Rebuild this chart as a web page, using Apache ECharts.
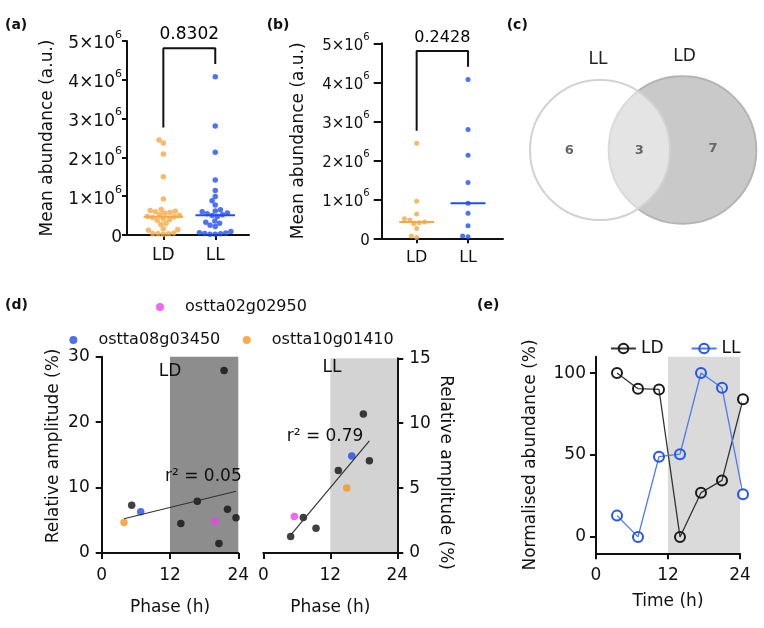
<!DOCTYPE html>
<html><head><meta charset="utf-8">
<script src="https://cdn.jsdelivr.net/npm/echarts@6/dist/echarts.min.js"></script>
<style>html,body{margin:0;padding:0;background:#fff}#c{width:764px;height:628px}</style>
</head><body><div id="c"></div>
<script>
// ---------------- data ----------------
const groups = ['LD', 'LL'];
// panel (a) mean abundance, in units of 10^6
const aLD = [2.45, 2.37, 2.09, 1.50, 0.93, 0.66, 0.63, 0.61, 0.60, 0.58, 0.56, 0.52, 0.50, 0.48, 0.47, 0.45, 0.42, 0.40, 0.38, 0.30, 0.28, 0.16, 0.14, 0.12, 0.05, 0.04, 0.03, 0.03, 0.02];
const aLL = [4.08, 2.81, 2.13, 1.42, 1.15, 0.99, 0.88, 0.77, 0.65, 0.62, 0.60, 0.57, 0.55, 0.52, 0.50, 0.48, 0.36, 0.33, 0.30, 0.25, 0.22, 0.09, 0.06, 0.05, 0.04, 0.03, 0.02, 0.02];
// panel (b)
const bLD = [2.44, 0.95, 0.62, 0.50, 0.47, 0.42, 0.40, 0.37, 0.25, 0.06, 0.02];
const bLL = [4.07, 2.79, 2.13, 1.43, 0.90, 0.64, 0.32, 0.06, 0.04];
const pValues = ['0.8302', '0.2428'];
const abundanceTicks = [0, 1, 2, 3, 4, 5];   // x10^6
// panel (c) Venn
const vennSets = ['LL', 'LD'];
const vennOnly = [6, 7];
const vennShared = 3;
// panel (d)
const geneNames = ['ostta02g02950', 'ostta08g03450', 'ostta10g01410'];
const dLDphase = [5.27, 6.85, 3.92, 13.9, 16.8, 19.9, 20.6, 21.5, 22.1, 23.6];
const dLDamp   = [7.3, 6.3, 4.65, 4.5, 7.9, 4.85, 1.44, 27.9, 6.7, 5.4];
const dLDgene  = [-1, 1, 2, -1, -1, 0, -1, -1, -1, -1];
const dLLphase = [4.9, 5.56, 7.17, 9.44, 13.44, 14.95, 15.84, 17.92, 19.0];
const dLLamp   = [1.28, 2.82, 2.74, 1.9, 6.35, 5.0, 7.48, 10.7, 7.1];
const dLLgene  = [-1, 0, -1, -1, -1, 2, 1, -1, -1];
const rSquared = ['0.05', '0.79'];
const darkPhase = [12, 24];
// panel (e)
const eTime = [3.5, 7, 10.5, 14, 17.5, 21, 24.5];
const eLD = [100, 90.5, 90, 0, 27, 34.5, 84];
const eLL = [13, 0, 49, 50.5, 100, 91, 26];
const eTicks = [0, 50, 100];

// ---------------- helpers ----------------
const F = 'DejaVu Sans';
const INK = '#111';
const ORANGE_A = '#f8a745', BLUE_A = '#1f4ff2';
const geneColors = ['#f03ef0', '#1f4de8', '#f5961f'];

function merge(a, b) {
  const out = Object.assign({}, a);
  for (const k in b) {
    const v = b[k];
    if (v && typeof v === 'object' && !Array.isArray(v) && out[k] && typeof out[k] === 'object' && !Array.isArray(out[k])) out[k] = merge(out[k], v);
    else out[k] = v;
  }
  return out;
}
const baseAxis = {
  type: 'value', z: 2,
  axisLine: {show: true, onZero: false, lineStyle: {color: INK, width: 2}},
  axisTick: {show: true, length: 6, lineStyle: {color: INK, width: 2}},
  axisLabel: {color: INK, fontFamily: F, fontSize: 17},
  splitLine: {show: false},
  nameLocation: 'middle',
  nameTextStyle: {color: INK, fontFamily: F, fontSize: 17}
};
const ax = o => merge(baseAxis, o);

function swarm(vals, center, pxX, pxY, d) {
  const order = vals.map((v, i) => i).sort((a, b) => vals[a] - vals[b]);
  const placed = [], res = [];
  for (const i of order) {
    const y = vals[i] * pxY;
    const ivs = [];
    for (const p of placed) {
      const dy = Math.abs(p[1] - y);
      if (dy < d) { const w = Math.sqrt(d * d - dy * dy); ivs.push([p[0] - w, p[0] + w]); }
    }
    const cands = [0];
    ivs.forEach(iv => cands.push(iv[0] - 0.01, iv[1] + 0.01));
    cands.sort((a, b) => Math.abs(a) - Math.abs(b));
    let x = 0;
    for (const c of cands) { if (!ivs.some(iv => c > iv[0] && c < iv[1])) { x = c; break; } }
    placed.push([x, y]);
    res.push([center + x / pxX, vals[i]]);
  }
  return res;
}
function median(v) {
  const s = v.slice().sort((a, b) => a - b), n = s.length;
  return n % 2 ? s[(n - 1) / 2] : (s[n / 2 - 1] + s[n / 2]) / 2;
}
function linreg(xs, ys) {
  const n = xs.length, mx = xs.reduce((a, b) => a + b) / n, my = ys.reduce((a, b) => a + b) / n;
  let sxy = 0, sxx = 0;
  xs.forEach((x, i) => { sxy += (x - mx) * (ys[i] - my); sxx += (x - mx) * (x - mx); });
  const b = sxy / sxx;
  return {a: my - b * mx, b};
}
const supRich = fs => ({
  n: {fontSize: fs, fontFamily: F, color: INK, lineHeight: fs + 6, verticalAlign: 'bottom'},
  s: {fontSize: Math.round(fs * 0.65), fontFamily: F, color: INK, lineHeight: Math.round(fs * 0.65) + 1, verticalAlign: 'top'}
});
const supFmt = v => v === 0 ? '{n|0}' : `{n|${v}×10}{s|6}`;
const HIDDEN = {color: '#fff', opacity: 0};

// ---------------- panels (a) & (b) ----------------
const series = [];
function dotPanel(idx, ldVals, llVals, pxX, pxY, halfW, dotSize, gap, pFs) {
  const cols = [ORANGE_A, BLUE_A];
  [ldVals, llVals].forEach((vals, g) => {
    series.push({type: 'scatter', xAxisIndex: idx, yAxisIndex: idx, z: 3, symbolSize: dotSize,
      itemStyle: {color: cols[g]}, data: swarm(vals, g + 1, pxX, pxY, gap), clip: false});
    const m = median(vals);
    series.push({type: 'line', xAxisIndex: idx, yAxisIndex: idx, z: 4, symbol: 'none',
      lineStyle: {color: cols[g], width: 2}, data: [[g + 1 - halfW, m], [g + 1 + halfW, m]]});
  });
  const mx1 = Math.max(...ldVals), mx2 = Math.max(...llVals);
  const top = Math.max(mx1, mx2) + 0.73;
  series.push({type: 'line', xAxisIndex: idx, yAxisIndex: idx, z: 4, symbol: 'none', clip: false,
    lineStyle: {color: INK, width: 2}, data: [[1, mx1 + 0.32], [1, top], [2, top], [2, mx2 + 0.33]]});
  series.push({type: 'scatter', xAxisIndex: idx, yAxisIndex: idx, symbolSize: 1, clip: false,
    itemStyle: {color: 'rgba(0,0,0,0)'}, data: [[1.5, top]],
    label: {show: true, position: 'top', distance: 5, formatter: pValues[idx], color: '#000', opacity: 1,
      textBorderWidth: 0, fontFamily: F, fontSize: pFs}});
}
dotPanel(0, aLD, aLL, 122 / 2.35, 194 / 5, 0.38, 5.5, 5.3, 17);
dotPanel(1, bLD, bLL, 121.3 / 2.36, 195 / 5, 0.34, 5, 5.5, 16);

// ---------------- panel (c) Venn ----------------
const unitR = 23.33, vennCy = 150, vennCx0 = 120, vennDist = 82.5;
const totals = [vennOnly[0] + vennShared, vennOnly[1] + vennShared];
const radii = totals.map(t => unitR * Math.sqrt(t));
const cxs = [vennCx0, vennCx0 + vennDist];
const vennStyles = [
  {fill: 'rgba(255,255,255,0.5)', stroke: '#d2d2d2', lineWidth: 2, z2: 2},
  {fill: '#c9c9c9', stroke: '#b4b4b4', lineWidth: 2, z2: 1}
];
series.push({type: 'custom', xAxisIndex: 2, yAxisIndex: 2, silent: true,
  data: vennSets.map((s, i) => [cxs[i], vennCy, radii[i]]),
  renderItem: (params, api) => {
    const c = api.coord([api.value(0), api.value(1)]);
    const r = api.size([api.value(2), 0])[0];
    const st = vennStyles[params.dataIndex];
    return {type: 'circle', z2: st.z2, shape: {cx: c[0], cy: c[1], r},
      style: {fill: st.fill, stroke: st.stroke, lineWidth: st.lineWidth}};
  }});
const vennLabels = vennSets.map((s, i) => [cxs[i] + (i ? 2 : -2), vennCy - radii[i] - 20, s]);
const leftLD = cxs[1] - radii[1], rightLL = cxs[0] + radii[0];
const vennCounts = [
  [((cxs[0] - radii[0]) + leftLD) / 2, vennCy + 1, vennOnly[0]],
  [(leftLD + rightLL) / 2, vennCy + 1, vennShared],
  [(rightLL + cxs[1] + radii[1]) / 2, vennCy - 1, vennOnly[1]]
];
// texts drawn by a custom series so that positions go through the axes
function textSeries(data, font, fill) {
  return {type: 'custom', xAxisIndex: 2, yAxisIndex: 2, silent: true, z: 5, data,
    renderItem: (params, api) => {
      const c = api.coord([api.value(0), api.value(1)]);
      return {type: 'text', x: c[0], y: c[1], style: {text: String(data[params.dataIndex][2]), font, fill,
        align: 'center', verticalAlign: 'middle', textAlign: 'center', textVerticalAlign: 'middle'}};
    }};
}
series.push(textSeries(vennLabels, '17px "DejaVu Sans"', '#222'));
series.push(textSeries(vennCounts, 'bold 13px "DejaVu Sans"', '#666'));

// ---------------- panel (d) ----------------
function dPanel(idx, phase, amp, gene, band) {
  const pts = phase.map((p, i) => [p, amp[i], gene[i]]);
  series.push({type: 'scatter', xAxisIndex: idx, yAxisIndex: idx, z: 3, symbolSize: 7.5,
    itemStyle: {color: '#111'}, data: pts.filter(d => d[2] < 0).map(d => [d[0], d[1]]),
    markArea: {silent: true, itemStyle: {color: band}, data: [[{xAxis: darkPhase[0]}, {xAxis: darkPhase[1]}]]}});
  geneNames.forEach((g, gi) => series.push({type: 'scatter', name: g, xAxisIndex: idx, yAxisIndex: idx, z: 3,
    symbolSize: 7.5, itemStyle: {color: geneColors[gi]}, data: pts.filter(d => d[2] === gi).map(d => [d[0], d[1]])}));
  const fit = linreg(phase, amp);
  const x0 = Math.min(...phase), x1 = Math.max(...phase);
  series.push({type: 'line', xAxisIndex: idx, yAxisIndex: idx, z: 4, symbol: 'none',
    lineStyle: {color: '#333', width: 1.2}, data: [[x0, fit.a + fit.b * x0], [x1, fit.a + fit.b * x1]]});
}
dPanel(3, dLDphase, dLDamp, dLDgene, '#8d8d8d');
dPanel(4, dLLphase, dLLamp, dLLgene, '#d3d3d3');

// ---------------- panel (e) ----------------
const eCols = [['#1a1a1a', '#333'], ['#2255ee', '#4a78f0']];
[eLD, eLL].forEach((vals, g) => series.push({type: 'line', name: groups[g], xAxisIndex: 5, yAxisIndex: 5, z: 3,
  clip: false, symbol: 'circle', symbolSize: 10,
  itemStyle: {color: 'rgba(255,255,255,0)', borderColor: eCols[g][0], borderWidth: 2},
  lineStyle: {color: eCols[g][1], width: 1.3},
  data: eTime.map((t, i) => [t, vals[i]]),
  markArea: g === 0 ? {silent: true, itemStyle: {color: '#dadada'}, data: [[{xAxis: darkPhase[0]}, {xAxis: darkPhase[1]}]]} : undefined
}));

// ---------------- texts ----------------
const txt = (text, x, y, font, align) => ({type: 'text', x, y, z: 10, style: {text, fill: INK, font,
  align: align || 'left', textAlign: align || 'left', verticalAlign: 'middle', textVerticalAlign: 'middle'}});
const PF = 'bold 14px "DejaVu Sans"', TF = '17px "DejaVu Sans"';

const option = {
  animation: false,
  backgroundColor: '#fff',
  textStyle: {fontFamily: F},
  grid: [
    {left: 127, top: 41, width: 122, height: 194},
    {left: 381.7, top: 43.3, width: 121.3, height: 195},
    {left: 480, top: 0, width: 284, height: 300},
    {left: 101.7, top: 356.7, width: 136.6, height: 196.3},
    {left: 263.3, top: 358.3, width: 134, height: 194.7},
    {left: 596, top: 356.7, width: 144, height: 196.6}
  ],
  xAxis: [
    ax({gridIndex: 0, min: 0.3, max: 2.65, axisTick: {customValues: [1, 2], length: 5},
      axisLabel: {customValues: [1, 2], formatter: v => groups[Math.round(v) - 1], margin: 12}}),
    ax({gridIndex: 1, min: 0.32, max: 2.68, axisTick: {customValues: [1, 2], length: 5},
      axisLabel: {customValues: [1, 2], formatter: v => groups[Math.round(v) - 1], margin: 12, fontSize: 16}}),
    {gridIndex: 2, type: 'value', min: 0, max: 284, show: false},
    ax({gridIndex: 3, min: 0, max: 24, interval: 12, name: 'Phase (h)', nameGap: 46, axisLabel: {margin: 14}}),
    ax({gridIndex: 4, min: 0, max: 24, interval: 12, name: 'Phase (h)', nameGap: 46, axisLabel: {margin: 14}}),
    ax({gridIndex: 5, min: 0, max: 24, interval: 12, name: 'Time (h)', nameGap: 40, axisLabel: {margin: 14}})
  ],
  yAxis: [
    ax({gridIndex: 0, min: abundanceTicks[0], max: abundanceTicks[abundanceTicks.length - 1], interval: 1,
      name: 'Mean abundance (a.u.)', nameGap: 71, axisTick: {length: 5},
      axisLabel: {formatter: supFmt, rich: supRich(17), margin: 5}}),
    ax({gridIndex: 1, min: abundanceTicks[0], max: abundanceTicks[abundanceTicks.length - 1], interval: 1,
      name: 'Mean abundance (a.u.)', nameGap: 75, axisTick: {length: 8},
      axisLabel: {formatter: supFmt, rich: supRich(15), margin: 12}}),
    {gridIndex: 2, type: 'value', min: 0, max: 300, inverse: true, show: false},
    ax({gridIndex: 3, min: 0, max: 30, interval: 10, name: 'Relative amplitude (%)', nameGap: 40,
      nameTextStyle: {padding: [0, 0, 0, 18]}, axisLabel: {margin: 12}}),
    ax({gridIndex: 4, min: 0, max: 15, interval: 5, position: 'right', name: 'Relative amplitude (%)',
      nameRotate: -90, nameGap: 40, nameTextStyle: {padding: [0, 0, 0, 34]}, axisLabel: {margin: 12}}),
    ax({gridIndex: 5, min: -10, max: 110, name: 'Normalised abundance (%)', nameGap: 57,
      axisTick: {customValues: eTicks}, axisLabel: {customValues: eTicks, margin: 10}})
  ],
  legend: [
    {data: [geneNames[0]], left: 151, top: 294, icon: 'circle', itemWidth: 40, itemHeight: 8,
      textStyle: {fontFamily: F, fontSize: 16, color: INK}, selectedMode: false},
    {data: [geneNames[1], geneNames[2]], left: 64.4, top: 327, icon: 'circle', itemWidth: 40, itemHeight: 8, itemGap: 22.5,
      textStyle: {fontFamily: F, fontSize: 16, color: INK}, selectedMode: false},
    {data: groups, left: 605, top: 335, itemWidth: 25, itemHeight: 12, itemGap: 27,
      textStyle: {fontFamily: F, fontSize: 17, color: INK}, selectedMode: false}
  ],
  series,
  graphic: [
    txt('(a)', 5, 25, PF), txt('(b)', 266.7, 25, PF), txt('(c)', 506.7, 25, PF),
    txt('(d)', 5, 305, PF), txt('(e)', 477, 305, PF),
    txt(groups[0], 170, 371.5, TF, 'center'), txt(groups[1], 332, 367.5, TF, 'center'),
    txt('r² = ' + rSquared[0], 165, 476.5, TF), txt('r² = ' + rSquared[1], 286.7, 436.5, TF)
  ]
};
const chart = echarts.init(document.getElementById('c'), null, {renderer: 'canvas'});
chart.setOption(option);
</script>
</body></html>
